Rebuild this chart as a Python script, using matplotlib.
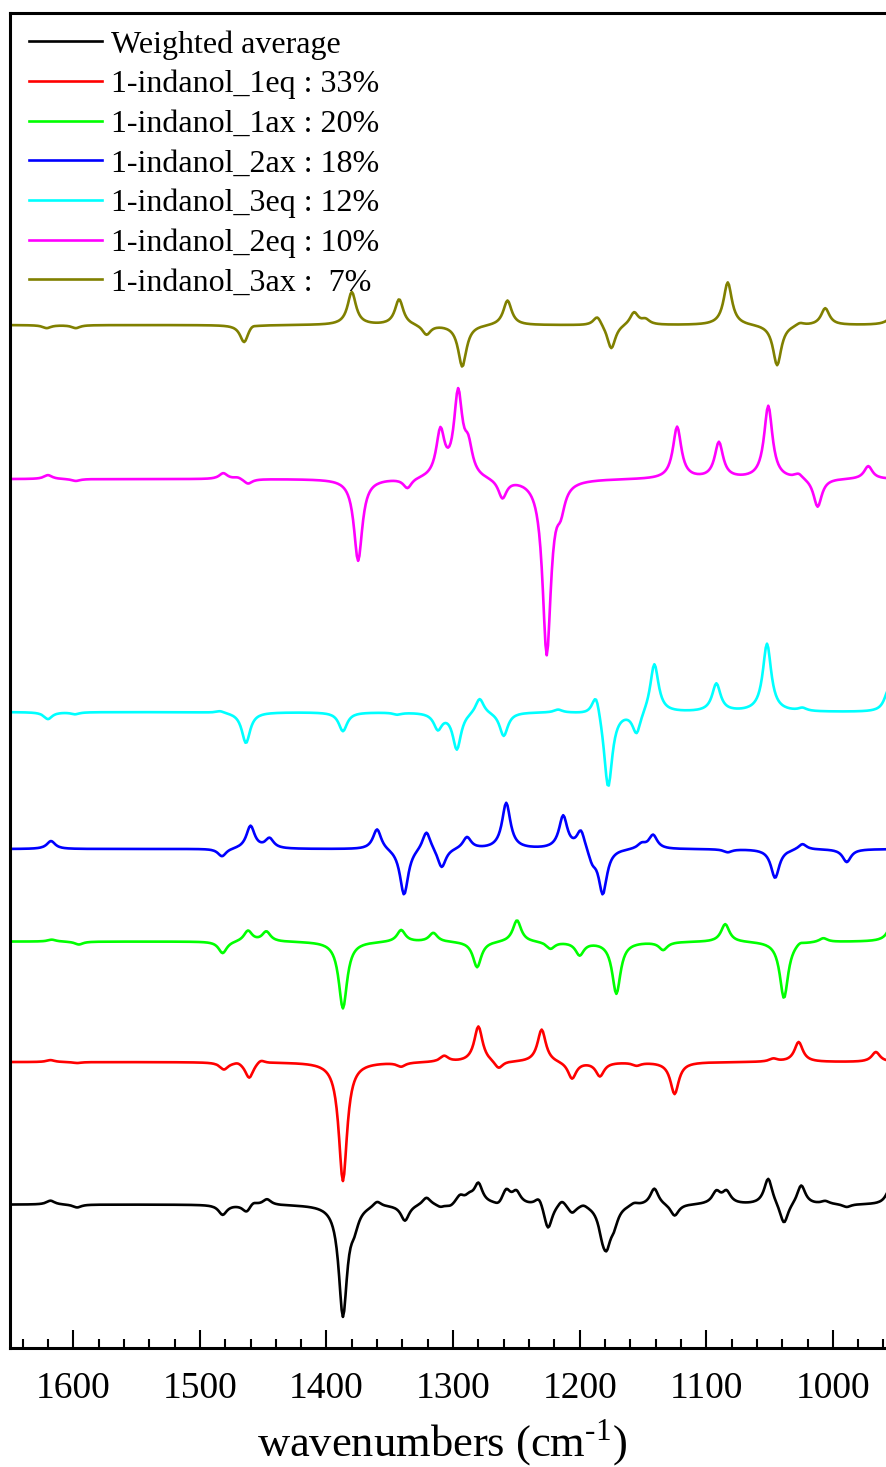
import numpy as np
import matplotlib.pyplot as plt

plt.rcParams['font.family'] = ['Liberation Serif', 'DejaVu Serif']
plt.rcParams['mathtext.fontset'] = 'custom'
plt.rcParams['mathtext.rm'] = 'Liberation Serif'

# band positions (cm-1) and signed intensities (arb. units) for each spectrum
avg_pos = [1618, 1597, 1482, 1463, 1458, 1447, 1387, 1378, 1360, 1338, 1321, 1310,
           1302, 1294.5, 1287, 1280, 1264, 1258, 1250, 1232, 1225, 1214, 1206, 1197,
           1182, 1178.6, 1173, 1157, 1141, 1125, 1092, 1084, 1051, 1038.6, 1025, 1006,
           989, 955]
avg_int = [4, -3, -10, -8, 4, 6, -110, -15, 6, -16, 8, -3,
           -3, 8, 6, 20, -4, 14, 12, 10, -26, 7, -8, 3,
           -20, -30, -15, 3, 17, -12, 12, 12, 27, -22, 20, 3,
           -3, 15]

eq1_pos = [1618, 1597, 1481, 1470, 1461, 1452, 1387, 1341, 1307, 1280, 1264, 1230,
           1206, 1184, 1155, 1125, 1047, 1027, 966]
eq1_int = [2, -1, -7, 2, -16, 4, -119, -4, 6, 36, -8, 33,
           -17, -14, -3, -32, 3, 20, 10]

ax1_pos = [1617, 1595.6, 1482, 1462, 1447.5, 1387, 1341, 1315.6, 1281, 1249.5, 1223,
           1200, 1171, 1134, 1085, 1038.6, 1026, 1007.5, 952]
ax1_int = [2, -3, -12, 11, 10, -67, 12, 9, -26, 22, -7,
           -13, -52, -8, 18, -57, 3, 4, 25]

ax2_pos = [1617.6, 1482.5, 1460, 1445, 1360, 1338.7, 1321, 1309, 1289, 1258, 1213,
           1199, 1190, 1181.7, 1151, 1142, 1083, 1045.6, 1024, 989]
ax2_int = [8, -8, 23, 10, 21, -47, 20, -20, 12, 46, 33,
           20, -12, -45, 5, 14, -3, -29, 6, -13]

eq3_pos = [1620, 1598.6, 1484, 1463.6, 1387, 1344, 1312, 1297, 1279, 1260, 1217,
           1187, 1177.5, 1155, 1141, 1092, 1052, 1024, 956]
eq3_int = [-7, -2, 2, -31, -19, -2, -16, -37, 16, -24, 3,
           24, -78, -23, 50, 28, 68, 3, 22]

eq2_pos = [1620, 1598, 1481.5, 1470, 1462, 1375, 1336, 1310, 1296, 1288, 1261,
           1226, 1215, 1123, 1090, 1051, 1027, 1012, 972]
eq2_int = [4, -2, 6, 2, -5, -82, -10, 46, 83, 28, -19,
           -174, -22, 52, 36, 73, 5, -29, 13]

ax3_pos = [1621, 1598, 1465, 1459, 1380, 1342.6, 1321, 1292.7, 1257, 1186, 1175,
           1157, 1148, 1083, 1044, 1026, 1006, 950]
ax3_int = [-3, -3, -18, 3, 33, 26, -10, -42, 25, 10, -25,
           13, 5, 43, -41, 3, 17, 20]

labels = ["Weighted average", "1-indanol_1eq : 33%", "1-indanol_1ax : 20%",
          "1-indanol_2ax : 18%", "1-indanol_3eq : 12%", "1-indanol_2eq : 10%",
          "1-indanol_3ax :  7%"]
offsets = [143.5, 286, 406.5, 499, 636, 869, 1023]
colors = ["black", "red", "lime", "blue", "cyan", "magenta", "olive"]

bands = [(avg_pos, avg_int), (eq1_pos, eq1_int), (ax1_pos, ax1_int), (ax2_pos, ax2_int),
         (eq3_pos, eq3_int), (eq2_pos, eq2_int), (ax3_pos, ax3_int)]

hwhm = 4.0
wn = np.arange(940, 1660.5, 1.0)


def spectrum(pos, inten):
    y = np.zeros_like(wn)
    for p, a in zip(pos, inten):
        y += a * hwhm**2 / ((wn - p)**2 + hwhm**2)
    return y


fig = plt.figure(figsize=(8.86, 14.67), dpi=100)
ax = fig.add_axes([10/886, 0.0811, 876/886, 0.910])

for (pos, inten), off, col, lab in zip(bands, offsets, colors, labels):
    ax.plot(wn, spectrum(pos, inten) + off, color=col, lw=1.9, label=lab)

ax.set_xlim(1650, 958)
ax.set_ylim(0, 1335)

ax.set_xticks([1600, 1500, 1400, 1300, 1200, 1100, 1000])
ax.set_xticks(np.arange(1640, 950, -20), minor=True)
ax.set_yticks([])
ax.tick_params(axis='x', which='major', direction='in', length=13, width=1.5,
               labelsize=27, pad=17)
ax.tick_params(axis='x', which='minor', direction='in', length=6.5, width=1.5)

for side in ['left', 'top', 'bottom']:
    ax.spines[side].set_linewidth(2.2)
ax.spines['right'].set_visible(False)

ax.set_xlabel(r"wavenumbers (cm$^{\text{-1}}$)", fontsize=32)
ax.xaxis.set_label_coords(0.493, -0.052)

ax.legend(loc='upper left', bbox_to_anchor=(19/876, 1 - 17/1335), frameon=False,
          fontsize=23, handlelength=2.3, handletextpad=0.28, labelspacing=0.32,
          borderpad=0, borderaxespad=0)

fig.savefig("out.png", dpi=100)
